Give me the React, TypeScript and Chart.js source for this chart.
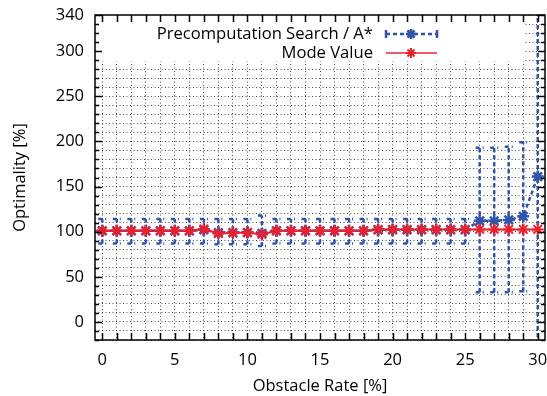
import React, { useEffect, useRef } from 'react';
import { Chart, registerables } from 'chart.js';

Chart.register(...registerables);

// ---- data ----
const obstacleRates = [0,1,2,3,4,5,6,7,8,9,10,11,12,13,14,15,16,17,18,19,20,21,22,23,24,25,26,27,28,29,30];
const searchMean = [101,101,101,101,101,101,101,102,99,99,99,98,101,101,101,101,101,101,101,102,102,102,102,102,102,102,112,112,113,117,161];
const searchLow = [87,87,87,87,87,87,87,87,86,86,86,84,87,87,87,87,87,87,87,87,87,87,87,87,87,87,33,33,33,34,-40];
const searchHigh = [114,114,114,114,114,114,114,114,114,114,114,118,114,114,114,114,114,114,114,114,114,114,114,114,114,114,193,193,194,199,400];
const modeValue = [101,101,101,101,101,101,101,103,98,98.5,99,97,101,101,101,101,101,101,101,102.5,102.5,102.5,102.5,102.5,102.5,102.5,102.5,102.5,102.5,102.5,102.5];
const xTickLabels = [0,5,10,15,20,25,30];
const yTickLabels = [0,50,100,150,200,250,300,340];
const yMin = -20;
const yMax = 340;
const yGridStep = 10;
const seriesNames = ['Precomputation Search / A*', 'Mode Value'];

const BLUE = 'rgb(48,84,172)';
const RED = 'rgb(236,32,44)';
const FONT_FAMILY = "'Open Sans', 'DejaVu Sans', sans-serif";

function drawStar(ctx: CanvasRenderingContext2D, x: number, y: number, r: number) {
  ctx.beginPath();
  ctx.moveTo(x - r, y); ctx.lineTo(x + r, y);
  ctx.moveTo(x, y - r); ctx.lineTo(x, y + r);
  const d = r * 0.7071;
  ctx.moveTo(x - d, y - d); ctx.lineTo(x + d, y + d);
  ctx.moveTo(x - d, y + d); ctx.lineTo(x + d, y - d);
  ctx.stroke();
}

const customPlugin = {
  id: 'gnuplotLook',
  beforeDatasetsDraw(chart: any) {
    const ctx: CanvasRenderingContext2D = chart.ctx;
    const area = chart.chartArea;
    const xs = chart.scales.x;
    const ys = chart.scales.y;
    // legend box (opaque)
    ctx.save();
    ctx.fillStyle = '#fff';
    ctx.fillRect(area.left, area.top, 525 - area.left, 61 - area.top);
    ctx.font = `16.6px ${FONT_FAMILY}`;
    ctx.fillStyle = '#000';
    ctx.textAlign = 'right';
    ctx.textBaseline = 'middle';
    ctx.fillText(seriesNames[0], 373, 34);
    ctx.fillText(seriesNames[1], 373, 53);
    // blue sample
    ctx.strokeStyle = BLUE;
    ctx.lineWidth = 2.5;
    ctx.setLineDash([4, 3]);
    ctx.beginPath();
    ctx.moveTo(386, 34); ctx.lineTo(437, 34);
    ctx.stroke();
    ctx.setLineDash([]);
    ctx.beginPath();
    ctx.moveTo(386, 30); ctx.lineTo(386, 38);
    ctx.moveTo(437, 30); ctx.lineTo(437, 38);
    ctx.stroke();
    drawStar(ctx, 411, 34, 5);
    // red sample
    ctx.strokeStyle = RED;
    ctx.lineWidth = 1.5;
    ctx.beginPath();
    ctx.moveTo(386, 53); ctx.lineTo(437, 53);
    ctx.stroke();
    ctx.lineWidth = 2;
    drawStar(ctx, 411, 53, 5);
    ctx.restore();

    // error bars
    ctx.save();
    ctx.beginPath();
    ctx.rect(area.left, area.top, area.right - area.left, area.bottom - area.top);
    ctx.clip();
    ctx.strokeStyle = BLUE;
    ctx.lineWidth = 2.5;
    ctx.setLineDash([4, 3]);
    for (let i = 0; i < obstacleRates.length; i++) {
      const px = xs.getPixelForValue(obstacleRates[i]);
      const pLo = ys.getPixelForValue(searchLow[i]);
      const pHi = ys.getPixelForValue(searchHigh[i]);
      ctx.beginPath();
      ctx.moveTo(px, pLo); ctx.lineTo(px, pHi);
      ctx.moveTo(px - 4, pLo); ctx.lineTo(px + 4, pLo);
      ctx.moveTo(px - 4, pHi); ctx.lineTo(px + 4, pHi);
      ctx.stroke();
    }
    ctx.restore();
  },
  afterDraw(chart: any) {
    const ctx: CanvasRenderingContext2D = chart.ctx;
    const area = chart.chartArea;
    const xs = chart.scales.x;
    const ys = chart.scales.y;
    ctx.save();
    ctx.strokeStyle = '#000';
    ctx.lineWidth = 1.5;
    ctx.beginPath();
    for (const v of obstacleRates) {
      const px = Math.round(xs.getPixelForValue(v)) + 0.5;
      ctx.moveTo(px, area.bottom); ctx.lineTo(px, area.bottom - 7);
      ctx.moveTo(px, area.top); ctx.lineTo(px, area.top + 7);
    }
    for (let v = yMin; v <= yMax; v += yGridStep) {
      const py = Math.round(ys.getPixelForValue(v)) + 0.5;
      const len = yTickLabels.includes(v) ? 7 : 4;
      ctx.moveTo(area.left, py); ctx.lineTo(area.left + len, py);
      ctx.moveTo(area.right, py); ctx.lineTo(area.right - len, py);
    }
    ctx.stroke();
    ctx.lineWidth = 1.5;
    ctx.strokeRect(area.left, area.top, area.right - area.left, area.bottom - area.top);
    ctx.restore();
  },
};

export default function App() {
  const canvasRef = useRef<HTMLCanvasElement | null>(null);

  useEffect(() => {
    const canvas = canvasRef.current;
    if (!canvas) return;
    const font = { family: FONT_FAMILY, size: 16.5 };
    const chart = new Chart(canvas, {
      type: 'line',
      data: {
        labels: obstacleRates,
        datasets: [
          {
            label: seriesNames[1],
            data: obstacleRates.map((x, i) => ({ x, y: modeValue[i] })),
            borderColor: RED,
            backgroundColor: RED,
            borderWidth: 2,
            pointStyle: 'star',
            pointRadius: 6,
            pointBorderWidth: 2,
            pointBorderColor: RED,
            tension: 0,
            order: 0,
          },
          {
            label: seriesNames[0],
            data: obstacleRates.map((x, i) => ({ x, y: searchMean[i] })),
            borderColor: BLUE,
            backgroundColor: BLUE,
            borderWidth: 2.5,
            borderDash: [4, 3],
            pointStyle: 'star',
            pointRadius: 6,
            pointBorderWidth: 2.5,
            pointBorderColor: BLUE,
            tension: 0,
            order: 1,
          },
        ],
      },
      options: {
        animation: false,
        responsive: false,
        maintainAspectRatio: false,
        layout: { autoPadding: false, padding: { top: 15, right: 2, left: 0, bottom: 0 } },
        plugins: { legend: { display: false }, tooltip: { enabled: false } },
        scales: {
          x: {
            type: 'linear',
            min: -0.5,
            max: 30.5,
            afterBuildTicks: (s: any) => { s.ticks = obstacleRates.map((v) => ({ value: v })); },
            afterFit: (s: any) => { s.height = 56; s.paddingRight = 0; s.paddingLeft = 0; },
            ticks: {
              autoSkip: false,
              maxRotation: 0,
              padding: 10,
              color: '#000',
              font,
              callback: (v: any) => (xTickLabels.includes(Number(v)) ? String(v) : ''),
            },
            grid: { drawTicks: false, color: 'rgba(0,0,0,0.7)', lineWidth: 1 },
            border: { display: false, dash: [1, 2.5] },
            title: { display: true, text: 'Obstacle Rate [%]', color: '#000', font, padding: { top: 2, bottom: 0 } },
          },
          y: {
            type: 'linear',
            min: yMin,
            max: yMax,
            afterBuildTicks: (s: any) => {
              const t: any[] = [];
              for (let v = yMin; v <= yMax; v += yGridStep) t.push({ value: v });
              s.ticks = t;
            },
            afterFit: (s: any) => { s.width = 95; s.paddingTop = 0; s.paddingBottom = 0; },
            ticks: {
              autoSkip: false,
              padding: 11,
              color: '#000',
              font,
              callback: (v: any) => (yTickLabels.includes(Number(v)) ? String(v) : ''),
            },
            grid: { drawTicks: false, color: 'rgba(0,0,0,0.7)', lineWidth: 1 },
            border: { display: false, dash: [1, 2.5] },
            title: { display: true, text: 'Optimality [%]', color: '#000', font, padding: { top: 10, bottom: 4 } },
          },
        },
      },
      plugins: [customPlugin],
    } as any);
    return () => chart.destroy();
  }, []);

  return (
    <div style={{ position: 'fixed', left: 0, top: 0, width: 547, height: 396, background: '#fff' }}>
      <canvas ref={canvasRef} width={547} height={396} style={{ width: 547, height: 396 }} />
    </div>
  );
}
